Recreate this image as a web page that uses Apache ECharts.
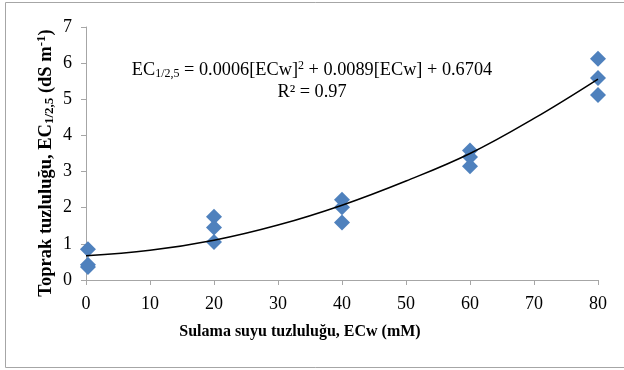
<!DOCTYPE html>
<html>
<head>
<meta charset="utf-8">
<script src="https://cdn.jsdelivr.net/npm/echarts@6/dist/echarts.min.js"></script>
<style>
html, body { margin: 0; padding: 0; background: #fff; }
#main { width: 624px; height: 370px; }
</style>
</head>
<body>
<div id="main"></div>
<script>
var xTicks = [0, 10, 20, 30, 40, 50, 60, 70, 80]
var yTicks = [0, 1, 2, 3, 4, 5, 6, 7]

// measured points (ECw, EC1/2,5)
var ecw = [0.3, 0.3, 0.3, 20, 20, 20, 40, 40, 40, 60, 60, 60, 80, 80, 80]
var ecSoil = [0.85, 0.42, 0.36, 1.75, 1.45, 1.05, 2.22, 2.01, 1.59, 3.58, 3.40, 3.15, 6.12, 5.59, 5.12]

// trend line
var trendX = [0, 10, 20, 30, 40, 50, 60, 70, 80]
var trendY = [0.67, 0.82, 1.10, 1.52, 2.07, 2.74, 3.50, 4.47, 5.56]

var serif = 'Liberation Serif'

var points = []
for (var i = 0; i < ecw.length; i++) {
    points.push([ecw[i], ecSoil[i]])
}
var trend = []
for (var i = 0; i < trendX.length; i++) {
    trend.push([trendX[i], trendY[i]])
}

var myChart = echarts.init(document.getElementById('main'))

var option = {
    animation: false,
    backgroundColor: '#fff',
    grid: { left: 86, right: 26, top: 27, bottom: 90 },
    xAxis: {
        type: 'value',
        min: xTicks[0],
        max: xTicks[xTicks.length - 1],
        interval: 10,
        splitLine: { show: false },
        axisLine: { lineStyle: { color: '#a6a6a6', width: 1 } },
        axisTick: { show: true, length: 5, lineStyle: { color: '#a6a6a6' } },
        axisLabel: { color: '#000', fontFamily: serif, fontSize: 18, margin: 15 }
    },
    yAxis: {
        type: 'value',
        min: yTicks[0],
        max: yTicks[yTicks.length - 1],
        interval: 1,
        splitLine: { show: false },
        axisLine: { show: true, lineStyle: { color: '#a6a6a6', width: 1 } },
        axisTick: { show: true, length: 5, lineStyle: { color: '#a6a6a6' } },
        axisLabel: { color: '#000', fontFamily: serif, fontSize: 18, margin: 14 }
    },
    graphic: [
        {
            type: 'rect',
            shape: { x: 5.5, y: 2.5, width: 630, height: 365 },
            style: { fill: 'none', stroke: '#a6a6a6', lineWidth: 1 },
            silent: true
        },
        {
            type: 'text',
            x: 300, y: 332,
            style: {
                text: 'Sulama suyu tuzluluğu, ECw (mM)',
                font: 'bold 16px "Liberation Serif"',
                fill: '#000',
                align: 'center',
                verticalAlign: 'middle'
            }
        },
        {
            type: 'text',
            x: 46, y: 163,
            rotation: Math.PI / 2,
            style: {
                text: 'Toprak tuzluluğu, EC{sub|1/2,5} (dS m{sup|-1})',
                font: 'bold 18.5px "Liberation Serif"',
                fill: '#000',
                align: 'center',
                verticalAlign: 'middle',
                rich: {
                    sub: { fontFamily: serif, fontWeight: 'bold', fontSize: 13, padding: [8, 0, 0, 0] },
                    sup: { fontFamily: serif, fontWeight: 'bold', fontSize: 13, padding: [0, 0, 9, 0] }
                }
            }
        },
        {
            type: 'text',
            x: 312, y: 70,
            style: {
                text: 'EC{sub|1/2,5} = 0.0006[ECw]{sup|2} + 0.0089[ECw] + 0.6704',
                font: '18.3px "Liberation Serif"',
                fill: '#000',
                align: 'center',
                verticalAlign: 'middle',
                rich: {
                    sub: { fontFamily: serif, fontSize: 12, padding: [8, 0, 0, 0] },
                    sup: { fontFamily: serif, fontSize: 12, padding: [0, 0, 9, 0] }
                }
            }
        },
        {
            type: 'text',
            x: 312, y: 92,
            style: {
                text: 'R² = 0.97',
                font: '18.3px "Liberation Serif"',
                fill: '#000',
                align: 'center',
                verticalAlign: 'middle'
            }
        }
    ],
    series: [
        {
            name: 'points',
            type: 'scatter',
            symbol: 'diamond',
            symbolSize: 16,
            itemStyle: { color: '#4f81bd', opacity: 1 },
            data: points,
            z: 2
        },
        {
            name: 'trend',
            type: 'line',
            smooth: 0.4,
            showSymbol: false,
            lineStyle: { color: '#000', width: 1.5 },
            data: trend,
            z: 3
        }
    ]
}

myChart.setOption(option)
</script>
</body>
</html>
